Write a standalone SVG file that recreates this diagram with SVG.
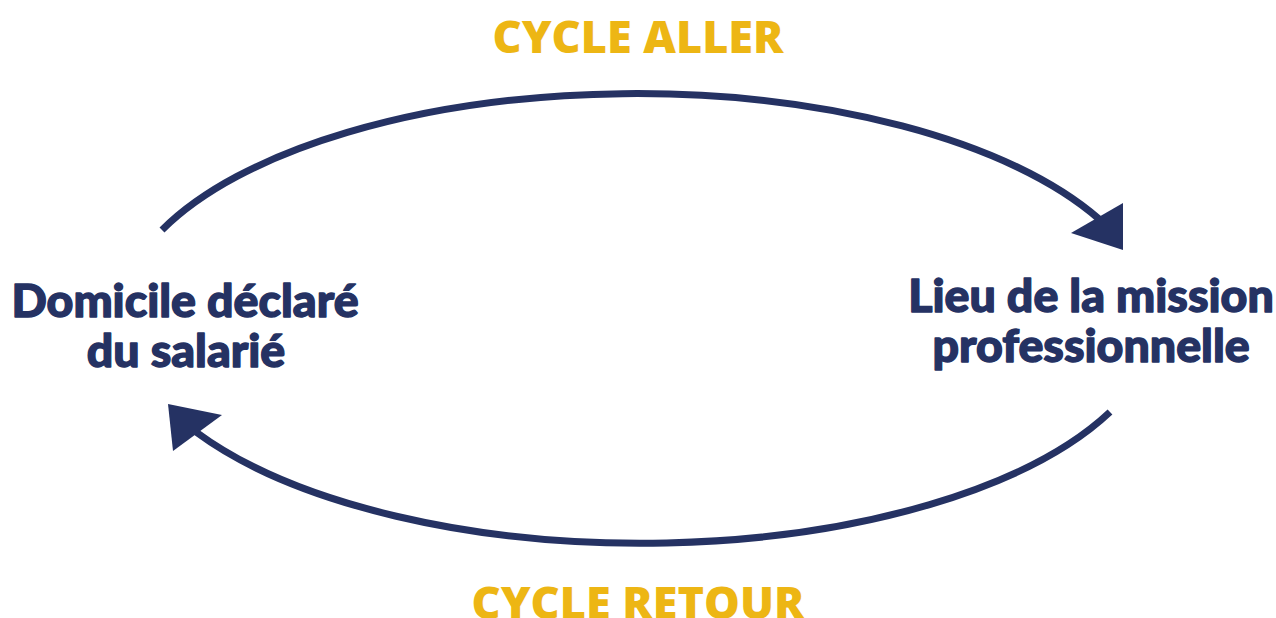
<svg xmlns="http://www.w3.org/2000/svg" width="1276" height="618" viewBox="0 0 1276 618">
<style>
.lbl{font-family:Lato,"Open Sans",sans-serif;font-weight:900;fill:#253263;stroke:#253263;stroke-width:1.4;stroke-linejoin:round;font-size:46.5px;text-anchor:middle}
.cyc{font-family:"Open Sans","Noto Sans",sans-serif;font-weight:800;fill:#EDB614;font-size:45px;text-anchor:middle}
.arc{fill:none;stroke:#253263;stroke-width:7}
.head{fill:#253263}
</style>
<rect width="1276" height="618" fill="#ffffff"/>
<g id="connectors">
<path class="arc" d="M 162 230 A 518 228 0 0 1 1099 219"/>
<polygon class="head" points="1071,233 1123,203 1123,250"/>
<path class="arc" d="M 1110 412 A 518 228 0 0 1 196 432"/>
<polygon class="head" points="168,404 222,415 173,451"/>
</g>
<g id="label-aller"><text class="cyc" x="638" y="53">CYCLE ALLER</text></g>
<g id="label-retour"><text class="cyc" x="638" y="619">CYCLE RETOUR</text></g>
<g id="node-domicile"><text class="lbl" x="185" y="317">Domicile déclaré</text><text class="lbl" x="186" y="367">du salarié</text></g>
<g id="node-lieu"><text class="lbl" x="1091" y="312">Lieu de la mission</text><text class="lbl" x="1091" y="362">professionnelle</text></g>
</svg>
